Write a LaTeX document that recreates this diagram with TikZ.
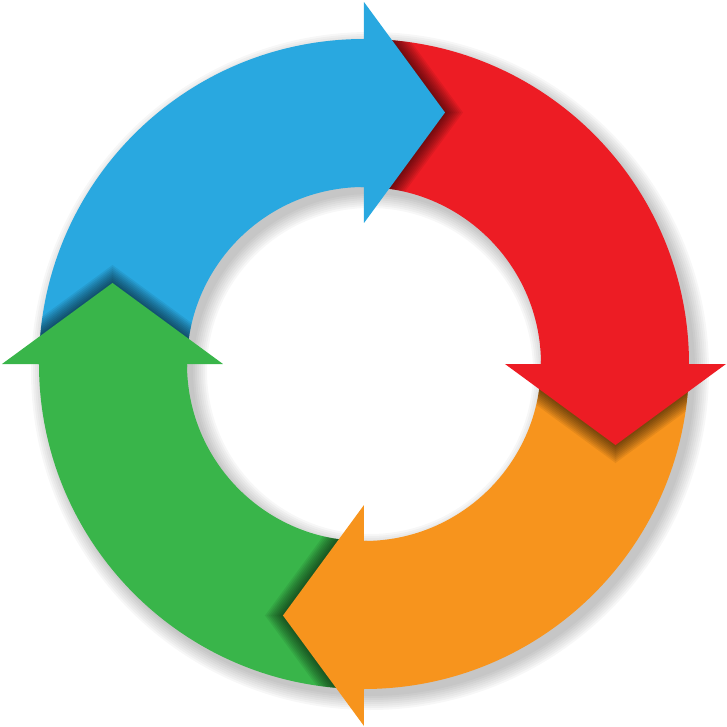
\documentclass[tikz,border=0pt]{standalone}

\definecolor{cycblue}{HTML}{29A8E0}
\definecolor{cycred}{HTML}{ED1C24}
\definecolor{cycorange}{HTML}{F7941D}
\definecolor{cycgreen}{HTML}{39B54A}

\tikzset{
  ringshade/.style={fill=black, fill opacity=0.03, even odd rule},
  headshade/.style={fill=black, fill opacity=0.07},
}

\begin{document}
\begin{tikzpicture}[x=0.01cm, y=0.01cm]

\useasboundingbox (-364,-363) rectangle (363,364);

% ---- shadow under the ring ----
\foreach \k in {0,2,...,14}
  \fill[ringshade, shift={(6,-7)}] (0,0) circle[radius=325+\k] circle[radius=177-\k];

% ---- bodies ----
\fill[cycblue] (180:325) arc[start angle=180, end angle=90, radius=325]
  -- (90:177) arc[start angle=90, end angle=180, radius=177] -- cycle;
\fill[cycred] (90:325) arc[start angle=90, end angle=0, radius=325]
  -- (0:177) arc[start angle=0, end angle=90, radius=177] -- cycle;
\fill[cycorange] (0:325) arc[start angle=0, end angle=-90, radius=325]
  -- (-90:177) arc[start angle=-90, end angle=0, radius=177] -- cycle;
\fill[cycgreen] (-90:325) arc[start angle=-90, end angle=-180, radius=325]
  -- (-180:177) arc[start angle=-180, end angle=-90, radius=177] -- cycle;

% small overlaps under the heads, so that no seam shows
\fill[cycblue] (91:325) arc[start angle=91, end angle=89, radius=325]
  -- (89:177) arc[start angle=89, end angle=91, radius=177] -- cycle;
\fill[cycred] (1:325) arc[start angle=1, end angle=-1, radius=325]
  -- (-1:177) arc[start angle=-1, end angle=1, radius=177] -- cycle;
\fill[cycorange] (-89:325) arc[start angle=-89, end angle=-91, radius=325]
  -- (-91:177) arc[start angle=-91, end angle=-89, radius=177] -- cycle;
\fill[cycgreen] (-179:325) arc[start angle=-179, end angle=-181, radius=325]
  -- (-181:177) arc[start angle=-181, end angle=-179, radius=177] -- cycle;

% ---- blue head ----
\begin{scope}
  \clip (90:325) arc[start angle=90, end angle=0, radius=325]
    -- (0:177) arc[start angle=0, end angle=90, radius=177] -- cycle;
  \foreach \s in {2,4,...,18}
    \fill[headshade, shift={(\s,0)}] (0,141) -- (81,251.5) -- (0,362) -- cycle;
\end{scope}
\fill[cycblue] (0,141) -- (81,251.5) -- (0,362) -- cycle;

% ---- red head ----
\begin{scope}[rotate=-90]
  \begin{scope}
    \clip (90:325) arc[start angle=90, end angle=0, radius=325]
      -- (0:177) arc[start angle=0, end angle=90, radius=177] -- cycle;
    \foreach \s in {2,4,...,18}
      \fill[headshade, shift={(\s,0)}] (0,141) -- (81,251.5) -- (0,362) -- cycle;
  \end{scope}
  \fill[cycred] (0,141) -- (81,251.5) -- (0,362) -- cycle;
\end{scope}

% ---- orange head ----
\begin{scope}[rotate=-180]
  \begin{scope}
    \clip (90:325) arc[start angle=90, end angle=0, radius=325]
      -- (0:177) arc[start angle=0, end angle=90, radius=177] -- cycle;
    \foreach \s in {2,4,...,18}
      \fill[headshade, shift={(\s,0)}] (0,141) -- (81,251.5) -- (0,362) -- cycle;
  \end{scope}
  \fill[cycorange] (0,141) -- (81,251.5) -- (0,362) -- cycle;
\end{scope}

% ---- green head ----
\begin{scope}[rotate=90]
  \begin{scope}
    \clip (90:325) arc[start angle=90, end angle=0, radius=325]
      -- (0:177) arc[start angle=0, end angle=90, radius=177] -- cycle;
    \foreach \s in {2,4,...,18}
      \fill[headshade, shift={(\s,0)}] (0,141) -- (81,251.5) -- (0,362) -- cycle;
  \end{scope}
  \fill[cycgreen] (0,141) -- (81,251.5) -- (0,362) -- cycle;
\end{scope}

\end{tikzpicture}
\end{document}
